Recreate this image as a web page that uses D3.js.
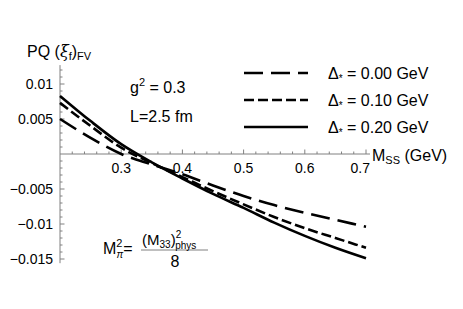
<!DOCTYPE html>
<html>
<head>
<meta charset="utf-8">
<script src="https://cdn.jsdelivr.net/npm/d3@7"></script>
<style>
  body { margin: 0; background: #fff; }
  svg { display: block; font-family: "Liberation Sans", Arial, Helvetica, sans-serif; }
</style>
</head>
<body>
<svg id="chart" width="463" height="309"></svg>
<script>
// M_SS values (GeV) and PQ (xi_f)_FV for each Delta*
const mss = [0.2, 0.25, 0.3, 0.35, 0.4, 0.45, 0.5, 0.55, 0.6, 0.65, 0.7];
const delta000 = [0.0050, 0.0023, 0.0000, -0.0015, -0.0029, -0.0045, -0.0060, -0.0073, -0.0084, -0.0094, -0.0104];
const delta010 = [0.0073, 0.0040, 0.0009, -0.0013, -0.0033, -0.0053, -0.0072, -0.0090, -0.0106, -0.0120, -0.0134];
const delta020 = [0.0083, 0.0047, 0.0014, -0.0012, -0.0035, -0.0057, -0.0077, -0.0098, -0.0117, -0.0134, -0.0149];
const legendLabels = ['0.00', '0.10', '0.20'];
const xTicks = [0.3, 0.4, 0.5, 0.6, 0.7];
const yTicks = [-0.015, -0.01, -0.005, 0.005, 0.01];

const svg = d3.select('#chart');

const x = d3.scaleLinear().domain([0.2, 0.7]).range([60, 366]);
const y = d3.scaleLinear().domain([0, 0.005]).range([154, 119]);

const axisColor = '#808080';
const dashes = ['19,8', '10,4', null];
const series = [delta000, delta010, delta020];

// axes lines
svg.append('line')
    .attr('x1', x(0.2)).attr('x2', 370)
    .attr('y1', y(0)).attr('y2', y(0))
    .attr('stroke', axisColor).attr('stroke-width', 1);
svg.append('line')
    .attr('x1', x(0.2)).attr('x2', x(0.2))
    .attr('y1', y(0.0127)).attr('y2', y(-0.0156))
    .attr('stroke', axisColor).attr('stroke-width', 1);

// x ticks
const xMinor = d3.range(0.22, 0.7001, 0.02);
svg.selectAll('.xminor')
    .data(xMinor)
    .enter().append('line')
    .attr('x1', d => x(d)).attr('x2', d => x(d))
    .attr('y1', y(0)).attr('y2', d => y(0) - (xTicks.some(t => Math.abs(t - d) < 1e-6) ? 4.5 : 2.5))
    .attr('stroke', axisColor);
svg.selectAll('.xlabel')
    .data(xTicks)
    .enter().append('text')
    .attr('x', (d, i) => i === xTicks.length - 1 ? x(d) + 4 : x(d))
    .attr('y', 173)
    .attr('text-anchor', (d, i) => i === xTicks.length - 1 ? 'end' : 'middle')
    .attr('font-size', 14)
    .text(d => d.toFixed(1));

// y ticks
const yMinor = d3.range(-0.015, 0.0121, 0.001).filter(d => Math.abs(d) > 1e-6);
svg.selectAll('.yminor')
    .data(yMinor)
    .enter().append('line')
    .attr('x1', x(0.2)).attr('x2', d => x(0.2) + (yTicks.some(t => Math.abs(t - d) < 1e-6) ? 4.5 : 2.5))
    .attr('y1', d => y(d)).attr('y2', d => y(d))
    .attr('stroke', axisColor);
svg.selectAll('.ylabel')
    .data(yTicks)
    .enter().append('text')
    .attr('x', 53).attr('y', d => y(d) + 5)
    .attr('text-anchor', 'end')
    .attr('font-size', 14)
    .text(d => {
        const s = String(Math.abs(d));
        return d < 0 ? '\u2212' + s : s;
    });

// curves
const line = d3.line()
    .x((d, i) => x(mss[i]))
    .y(d => y(d))
    .curve(d3.curveMonotoneX);

svg.selectAll('.curve')
    .data(series)
    .enter().append('path')
    .attr('d', d => line(d))
    .attr('fill', 'none')
    .attr('stroke', '#000')
    .attr('stroke-width', 2.6)
    .attr('stroke-dasharray', (d, i) => dashes[i]);

// legend
const legend = svg.selectAll('.legend')
    .data(legendLabels)
    .enter().append('g')
    .attr('transform', (d, i) => `translate(0, ${73 + i * 27})`);
legend.append('line')
    .attr('x1', 244).attr('x2', 308)
    .attr('y1', 0).attr('y2', 0)
    .attr('stroke', '#000')
    .attr('stroke-width', 2.6)
    .attr('stroke-dasharray', (d, i) => dashes[i]);
const lt = legend.append('text')
    .attr('x', 328).attr('y', 6)
    .attr('font-size', 16);
lt.append('tspan').text('\u0394');
lt.append('tspan').attr('font-size', 10).attr('dy', 3).text('*');
lt.append('tspan').attr('dy', -3).text(d => ` = ${d} GeV`);

// axis labels
const yl = svg.append('text').attr('x', 27).attr('y', 57).attr('font-size', 16);
yl.append('tspan').text('PQ (');
yl.append('tspan').attr('font-family', '"DejaVu Serif", serif').attr('font-style', 'italic').text('\u03be');
yl.append('tspan').attr('font-size', 11).attr('dy', 3).text('f');
yl.append('tspan').attr('dy', -3).text(')');
yl.append('tspan').attr('font-size', 11).attr('dy', 3).text('FV');

const xl = svg.append('text').attr('x', 372).attr('y', 161).attr('font-size', 16);
xl.append('tspan').text('M');
xl.append('tspan').attr('font-size', 11).attr('dy', 3).text('SS');
xl.append('tspan').attr('dy', -3).text(' (GeV)');

// annotations
const g2 = svg.append('text').attr('x', 130).attr('y', 93).attr('font-size', 16);
g2.append('tspan').text('g');
g2.append('tspan').attr('font-size', 11).attr('dy', -7).text('2');
g2.append('tspan').attr('dy', 7).text(' = 0.3');

svg.append('text').attr('x', 130).attr('y', 122).attr('font-size', 16).text('L=2.5 fm');

const mp = svg.append('text').attr('x', 103).attr('y', 254).attr('font-size', 16);
mp.append('tspan').text('M');
mp.append('tspan').attr('font-size', 11).attr('dy', -7).text('2');
mp.append('tspan').attr('font-size', 10).attr('font-style', 'italic').attr('dx', -6).attr('dy', 11).text('\u03c0');
mp.append('tspan').attr('dy', -4).text('=');

svg.append('line')
    .attr('x1', 141).attr('x2', 208)
    .attr('y1', 250).attr('y2', 250)
    .attr('stroke', axisColor).attr('stroke-width', 1);

const num = svg.append('text').attr('x', 142).attr('y', 245).attr('font-size', 15);
num.append('tspan').text('(M');
num.append('tspan').attr('font-size', 10).attr('dy', 3).text('33');
num.append('tspan').attr('dy', -3).text(')');
num.append('tspan').attr('font-size', 10).attr('dy', -7).text('2');
num.append('tspan').attr('font-size', 10).attr('dx', -6).attr('dy', 11).text('phys');

svg.append('text').attr('x', 175).attr('y', 267).attr('text-anchor', 'middle')
    .attr('font-size', 16).text('8');
</script>
</body>
</html>
